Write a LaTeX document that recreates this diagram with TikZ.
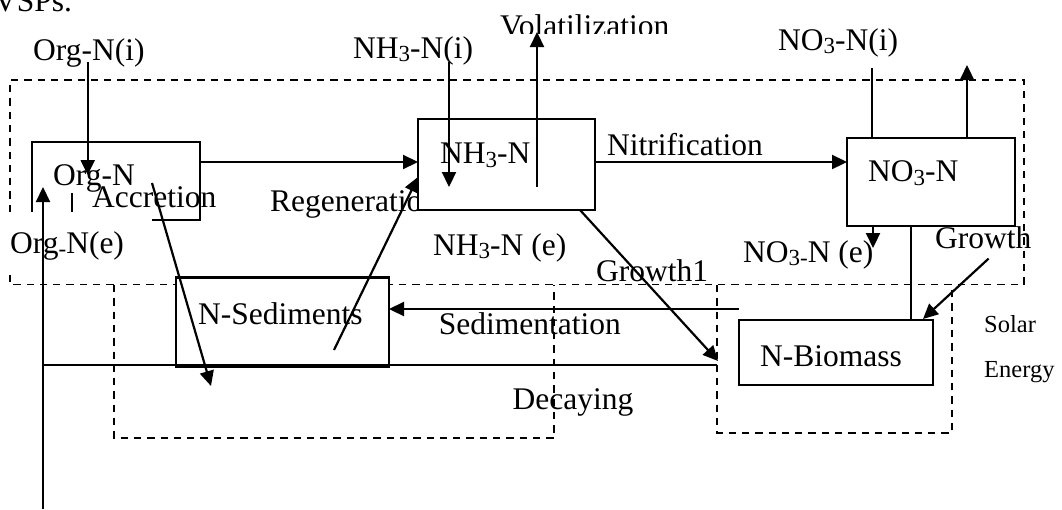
\documentclass[tikz,border=0pt]{standalone}
\usepackage{fontspec}
\setmainfont{Liberation Serif}
\usetikzlibrary{arrows.meta}
\newcommand{\mysub}[1]{\raisebox{-0.12em}{\fontsize{23}{23}\selectfont #1}}
\begin{document}
\begin{tikzpicture}[x=1pt,y=-1pt,
  txt/.style={inner sep=0pt, anchor=base west, font=\fontsize{31.5}{36}\selectfont},
  smalltxt/.style={inner sep=0pt, anchor=base west, font=\fontsize{24.5}{28}\selectfont},
  boxn/.style={draw, line width=2.2pt, inner sep=0pt, outer sep=0pt, anchor=north west},
  ghost/.style={inner sep=0pt, outer sep=0pt, anchor=north west},
  dsh/.style={line width=1.7pt, dash pattern=on 7.3pt off 6pt},
  ln/.style={line width=2.2pt},
  arr/.style={line width=2.2pt, -{Triangle[length=15pt,width=14pt]}}
]
\useasboundingbox (0,0) rectangle (1062,509);

% clipped fragment of text above the figure
\node[txt] (vsps) at (-6,11) {VSPs.};

% dashed groups
\draw[dsh] (10,212) -- (10,80) -- (1024,80) -- (1024,284.6) -- (10,284.6) -- (10,273);
\draw[dsh] (114,285) -- (114,438) -- (554,438) -- (554,285);
\draw[dsh] (717,285) -- (717,433) -- (952,433) -- (952,285);

% text under boxes
\node[txt] (regen) at (270,211.7) {Regeneration};

% boxes
\node[ghost, minimum width=168.3pt, minimum height=78pt] (orgN) at (31.7,142) {};
\draw[ln] ([yshift=8pt]orgN.south west) -- (orgN.north west) -- (orgN.north east) -- (orgN.south east) -- ++(-48,0);
\node[boxn, fill=white, minimum width=177pt, minimum height=91pt] (nh3) at (418,119) {};
\node[boxn, minimum width=168.3pt, minimum height=88pt] (no3) at (846.7,138) {};
\node[boxn, fill=white, minimum width=213pt, minimum height=89.3pt] (sed) at (176,277.5) {};
\node[boxn, minimum width=194.4pt, minimum height=65pt] (bio) at (738.6,320) {};

% texts
\node[txt] (orgNi) at (33,60) {Org-N(i)};
\node[txt] (nh3i) at (353,58) {NH\mysub{3}-N(i)};
\begin{scope}
  \clip (480,0) rectangle (700,33);
  \node[txt] (vol) at (500,36) {Volatilization};
\end{scope}
\node[txt] (no3i) at (778,50) {NO\mysub{3}-N(i)};
\node[txt] (orgNt) at (53,185) {Org-N};
\node[txt] (accr) at (92,207.5) {Accretion};
\node[txt] (nh3t) at (440,163.3) {NH\mysub{3}-N};
\node[txt] (nitr) at (607,155) {Nitrification};
\node[txt] (no3t) at (868,181.7) {NO\mysub{3}-N};
\node[txt] (orgNe) at (10,253) {Org\mysub{-}N(e)};
\node[txt] (nh3e) at (433,255) {NH\mysub{3}-N (e)};
\node[txt] (no3e) at (743,262) {NO\mysub{3}\mysub{-}N (e)};
\node[txt] (growth) at (935,248.3) {Growth};
\node[txt] (growth1) at (596,281) {Growth1};
\node[txt] (sedt) at (198,324) {N-Sediments};
\node[txt] (sedim) at (438.6,334.6) {Sedimentation};
\node[txt] (biot) at (760,366.8) {N-Biomass};
\node[txt] (decay) at (512.5,409.6) {Decaying};
\node[smalltxt] (solar) at (984,332.9) {Solar};
\node[smalltxt] (energy) at (984,377.5) {Energy};

% connector end points
\coordinate (orgNi-out) at (87.7,62);
\coordinate (orgN-in1) at (87.7,175);
\coordinate (bottom-in) at (43,509);
\coordinate (orgN-in2) at (43,187);
\coordinate (decay-corner) at (43,365);
\coordinate (decay-start) at (717,365);
\coordinate (orgN-out) at (200,162);
\coordinate (nh3-in) at (418,162);
\coordinate (accr-start) at (152,183);
\coordinate (accr-end) at (211,386);
\coordinate (regen-start) at (334,350);
\coordinate (regen-end) at (418,177);
\coordinate (nh3i-out) at (449,62);
\coordinate (nh3i-end) at (449,187);
\coordinate (vol-start) at (537,187);
\coordinate (vol-end) at (537,32);
\coordinate (nh3-out) at (595,162);
\coordinate (no3-in) at (847,162);
\coordinate (no3i-out) at (872,68);
\coordinate (no3-top) at (872,138);
\coordinate (no3-up) at (967,138);
\coordinate (no3-upend) at (967,65);
\coordinate (no3-e1) at (873,226);
\coordinate (no3-e2) at (873,248);
\coordinate (no3-b) at (911,226);
\coordinate (bio-t) at (911,320);
\coordinate (gr-start) at (988.6,258.6);
\coordinate (gr-end) at (923,319);
\coordinate (g1-start) at (580,210);
\coordinate (g1-end) at (718,361);
\coordinate (sedim-start) at (738.6,309);
\coordinate (sedim-end) at (389,309);
\coordinate (tick-a) at (72,193);
\coordinate (tick-b) at (72,212);

% connectors
\draw[arr] (orgNi-out) -- (orgN-in1);
\draw[arr] (bottom-in) -- (orgN-in2);
\draw[ln] (decay-start) -- (decay-corner);
\draw[arr] (orgN-out) -- (nh3-in);
\draw[arr] (accr-start) -- (accr-end);
\draw[arr] (regen-start) -- (regen-end);
\draw[arr] (nh3i-out) -- (nh3i-end);
\draw[arr] (vol-start) -- (vol-end);
\draw[arr] (nh3-out) -- (no3-in);
\draw[ln] (no3i-out) -- (no3-top);
\draw[arr] (no3-up) -- (no3-upend);
\draw[arr] (no3-e1) -- (no3-e2);
\draw[ln] (no3-b) -- (bio-t);
\draw[arr] (gr-start) -- (gr-end);
\draw[arr] (g1-start) -- (g1-end);
\draw[arr] (sedim-start) -- (sedim-end);
\draw[ln] (tick-a) -- (tick-b);
\end{tikzpicture}
\end{document}
